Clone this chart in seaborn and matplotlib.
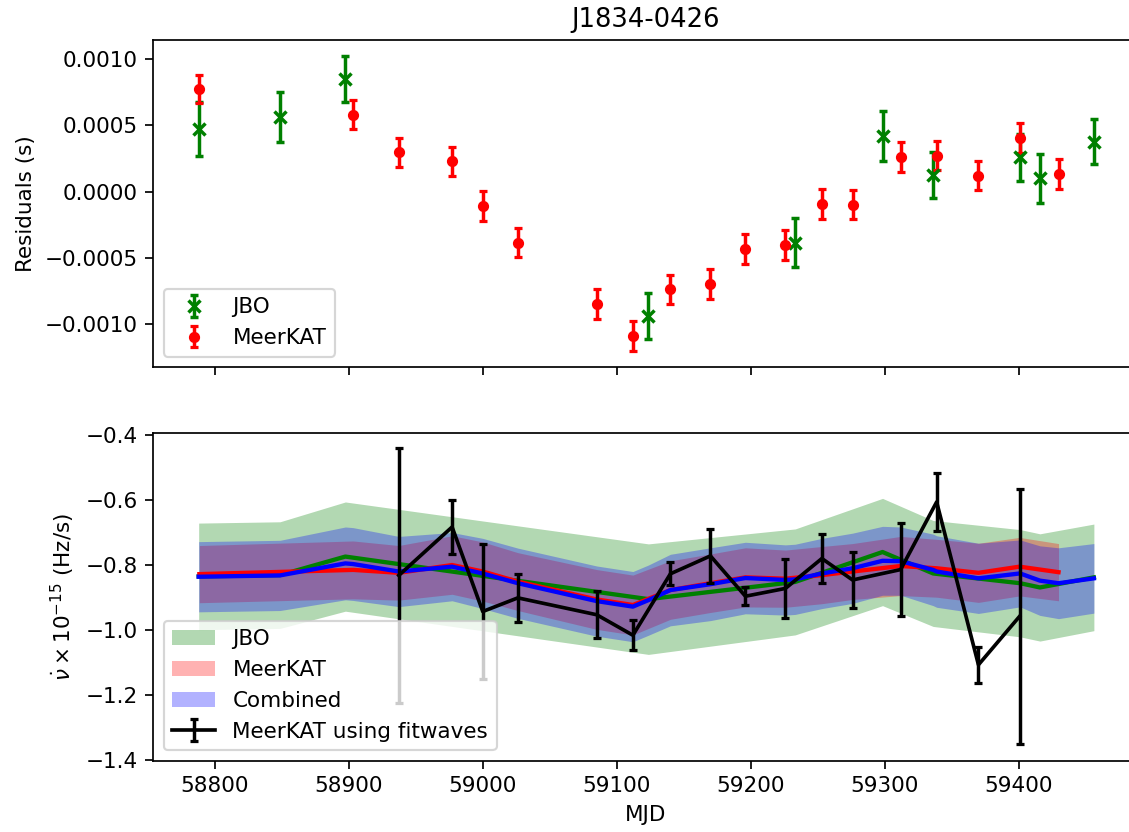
import numpy as np
import matplotlib
matplotlib.use("Agg")
import matplotlib.pyplot as plt
import seaborn as sns

# ---------------- data ----------------
# Top panel: timing residuals
mjd_jbo = [58787.8, 58848.5, 58897.3, 59123.6, 59233.2, 59298.4, 59336.2, 59401.2, 59415.9, 59456.2]
res_jbo = [0.000471, 0.000561, 0.000852, -0.000937, -0.000385, 0.000420, 0.000126, 0.000259, 0.000101, 0.000377]
err_jbo = [0.000202, 0.000188, 0.000173, 0.000174, 0.000185, 0.000188, 0.000173, 0.000176, 0.000185, 0.000170]

mjd_mk = [58788.3, 58903.1, 58937.2, 58977.0, 58999.9, 59026.1, 59085.0, 59112.0, 59140.0, 59169.9,
          59196.0, 59225.9, 59253.1, 59276.0, 59311.9, 59338.8, 59370.0, 59400.7, 59429.8]
res_mk = [0.000775, 0.000581, 0.000297, 0.000229, -0.000110, -0.000385, -0.000849, -0.001090, -0.000736, -0.000698,
          -0.000432, -0.000402, -0.000093, -0.000098, 0.000262, 0.000272, 0.000121, 0.000405, 0.000133]
err_mk = [0.000108, 0.000109, 0.000109, 0.000110, 0.000112, 0.000110, 0.000112, 0.000113, 0.000109, 0.000112,
          0.000115, 0.000114, 0.000112, 0.000112, 0.000112, 0.000112, 0.000112, 0.000112, 0.000110]

# Bottom panel: nu-dot models (units of 1e-15 Hz/s)
jbo_nudot = [-0.835, -0.831, -0.774, -0.905, -0.852, -0.760, -0.826, -0.856, -0.869, -0.838]
jbo_nudot_err = [0.164, 0.164, 0.168, 0.170, 0.163, 0.165, 0.163, 0.165, 0.165, 0.164]

mk_nudot = [-0.828, -0.815, -0.824, -0.800, -0.820, -0.851, -0.906, -0.923, -0.877, -0.856,
            -0.838, -0.842, -0.831, -0.820, -0.803, -0.810, -0.824, -0.805, -0.822]
mk_nudot_err = [0.088, 0.089, 0.084, 0.090, 0.091, 0.089, 0.092, 0.092, 0.090, 0.090,
                0.091, 0.088, 0.088, 0.086, 0.091, 0.089, 0.091, 0.090, 0.088]

mjd_comb = [58787.8, 58788.3, 58848.5, 58897.3, 58903.1, 58937.2, 58977.0, 58999.9, 59026.1, 59085.0,
            59112.0, 59123.6, 59140.0, 59169.9, 59196.0, 59225.9, 59233.2, 59253.1, 59276.0, 59298.4,
            59311.9, 59336.2, 59338.8, 59370.0, 59400.7, 59401.2, 59415.9, 59429.8, 59456.2]
comb_nudot = [-0.836, -0.836, -0.832, -0.795, -0.797, -0.820, -0.805, -0.826, -0.856, -0.911,
              -0.928, -0.908, -0.877, -0.859, -0.840, -0.846, -0.844, -0.826, -0.810, -0.787,
              -0.788, -0.815, -0.820, -0.841, -0.826, -0.826, -0.848, -0.856, -0.841]
comb_nudot_err = [0.108, 0.108, 0.108, 0.112, 0.112, 0.108, 0.105, 0.108, 0.108, 0.108,
                  0.108, 0.108, 0.110, 0.112, 0.110, 0.108, 0.108, 0.108, 0.108, 0.106,
                  0.105, 0.110, 0.110, 0.108, 0.103, 0.103, 0.107, 0.109, 0.107]

# MeerKAT using fitwaves
mjd_fw = [58937.2, 58977.0, 58999.9, 59026.1, 59085.0, 59112.0, 59140.0, 59169.9,
          59196.0, 59225.9, 59253.1, 59276.0, 59311.9, 59338.8, 59370.0, 59400.7]
fw_nudot = [-0.832, -0.683, -0.943, -0.901, -0.953, -1.016, -0.827, -0.772,
            -0.896, -0.872, -0.780, -0.846, -0.814, -0.606, -1.107, -0.958]
fw_err = [0.391, 0.082, 0.208, 0.074, 0.072, 0.046, 0.036, 0.084,
          0.028, 0.091, 0.074, 0.086, 0.142, 0.088, 0.055, 0.393]

title = "J1834-0426"

# ---------------- figure ----------------
DPI = 155
fig = plt.figure(figsize=(1129 / DPI, 832 / DPI), dpi=DPI)
ax1 = fig.add_axes([0.1353, 0.5583, 0.8731, 0.3936])
ax2 = fig.add_axes([0.1353, 0.0853, 0.8731, 0.3946], sharex=ax1)

# top panel
ax1.errorbar(mjd_jbo, res_jbo, yerr=err_jbo, fmt='x', color='green', ms=6, mew=1.6,
             capsize=2, capthick=1.5, elinewidth=1.6, label='JBO')
ax1.errorbar(mjd_mk, res_mk, yerr=err_mk, fmt='o', color='red', ms=4.2,
             capsize=2, capthick=1.5, elinewidth=1.6, label='MeerKAT')
ax1.set_ylabel('Residuals (s)')
ax1.set_title(title)
ax1.tick_params(labelbottom=False)
ax1.set_ylim(-0.001326, 0.001143)
ax1.legend(loc='lower left')

# bottom panel: bands
jn, je = np.array(jbo_nudot), np.array(jbo_nudot_err)
mn, me = np.array(mk_nudot), np.array(mk_nudot_err)
cn, ce = np.array(comb_nudot), np.array(comb_nudot_err)
ax2.fill_between(mjd_jbo, jn - je, jn + je, color='green', alpha=0.3, lw=0, label='JBO')
ax2.fill_between(mjd_mk, mn - me, mn + me, color='red', alpha=0.3, lw=0, label='MeerKAT')
ax2.fill_between(mjd_comb, cn - ce, cn + ce, color='blue', alpha=0.3, lw=0, label='Combined')

# model lines
sns.lineplot(x=mjd_jbo, y=jbo_nudot, ax=ax2, color='green', lw=2, estimator=None, sort=False, legend=False)
sns.lineplot(x=mjd_mk, y=mk_nudot, ax=ax2, color='red', lw=2, estimator=None, sort=False, legend=False)
sns.lineplot(x=mjd_comb, y=comb_nudot, ax=ax2, color='blue', lw=2, estimator=None, sort=False, legend=False)

ax2.errorbar(mjd_fw, fw_nudot, yerr=fw_err, fmt='-', color='k', lw=1.7, elinewidth=1.6,
             capsize=2, capthick=1.5, label='MeerKAT using fitwaves', zorder=5)

ax2.set_xlim(58753.5, 59489.5)
ax2.set_ylim(-1.403, -0.393)
ax2.set_yticks([-0.4, -0.6, -0.8, -1.0, -1.2, -1.4])
ax2.set_xlabel('MJD')
ax2.set_ylabel(r'$\dot{\nu} \times 10^{-15}$ (Hz/s)')
ax2.legend(loc='lower left')

fig.align_ylabels([ax1, ax2])
fig.savefig('out.png', dpi=DPI)
